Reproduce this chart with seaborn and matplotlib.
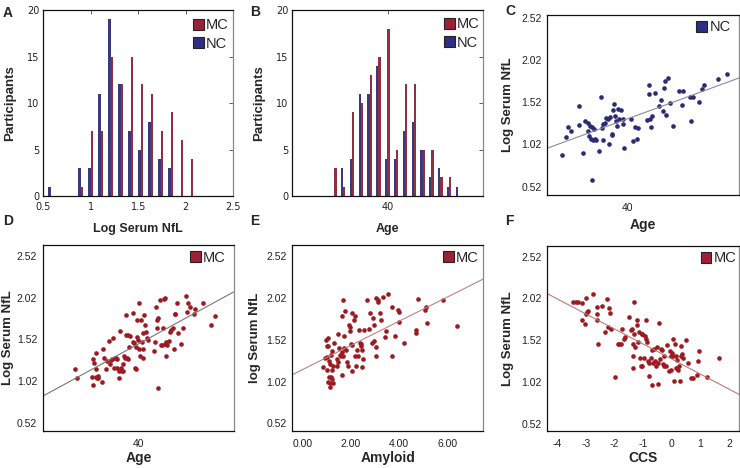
import numpy as np
import pandas as pd
import matplotlib
matplotlib.use("Agg")
import matplotlib.pyplot as plt
from matplotlib.patches import Patch
import seaborn as sns

# ---- histogram data (A, B) ----
nfl_bins = [0.58, 0.895, 1.0, 1.105, 1.21, 1.315, 1.42, 1.525, 1.63, 1.735, 1.84, 1.945, 2.05]
nfl_nc = [1, 3, 3, 11, 19, 12, 7, 5, 8, 4, 3, 0, 0]
nfl_mc = [0, 1, 7, 7, 15, 12, 15, 12, 11, 7, 9, 6, 4]

age_bins = [23.2, 25.97, 28.75, 31.52, 34.3, 37.07, 39.85, 42.62, 45.4, 48.17,
            50.95, 53.72, 56.5, 59.27, 62.05]
age_nc = [0, 3, 4, 11, 11, 14, 4, 4, 7, 8, 5, 2, 3, 1, 1]
age_mc = [3, 1, 9, 10, 13, 15, 18, 5, 12, 12, 5, 5, 2, 2, 0]

# ---- C: NC age vs log NfL ----
nc_age = [19.5, 20.8, 21.4, 22.4, 24.8, 25.0, 26.3, 26.8, 27.6, 27.8, 28.0, 28.3, 28.7,
          28.9, 29.0, 29.4, 29.7, 30.0, 30.2, 31.2, 31.8, 32.2, 32.3, 32.5, 32.9, 33.3,
          34.1, 34.4, 34.6, 35.1, 35.2, 35.6, 35.8, 36.0, 36.5, 36.7, 37.2, 37.5, 37.9,
          38.5, 38.7, 39.1, 41.0, 41.7, 42.5, 42.9, 43.3, 46.3, 46.8, 46.9, 47.1, 47.5,
          47.7, 48.8, 49.9, 50.5, 51.3, 51.6, 51.9, 52.0, 52.6, 53.3, 54.4, 56.3, 57.0,
          57.3, 59.6, 59.8, 60.6, 62.5, 63.2, 64.0, 68.4, 71.3]
nc_nfl = [0.89, 1.11, 1.22, 1.18, 1.25, 1.47, 0.92, 1.30, 1.27, 1.18, 1.12, 1.24, 1.08,
          1.23, 0.60, 1.07, 1.20, 1.08, 1.07, 0.94, 1.58, 1.21, 1.07, 1.26, 1.27, 1.33,
          1.32, 1.02, 1.34, 1.14, 1.13, 1.43, 1.50, 1.35, 1.29, 1.24, 1.44, 1.32, 1.43,
          1.32, 1.26, 0.98, 1.32, 1.06, 1.22, 1.08, 1.21, 1.31, 1.61, 1.72, 1.32, 1.23,
          1.35, 1.63, 1.47, 1.54, 1.41, 1.69, 1.77, 1.37, 1.81, 1.51, 1.24, 1.65, 1.49,
          1.65, 1.58, 1.30, 1.58, 1.52, 1.68, 1.72, 1.79, 1.85]

# ---- D: MC age vs log NfL ----
mc_age = [20.0, 20.8, 25.3, 25.7, 25.9, 26.1, 26.6, 26.7, 26.9, 27.2, 27.4, 26.7, 28.5,
          28.8, 29.1, 29.8, 30.2, 30.9, 31.1, 31.4, 31.6, 32.1, 32.4, 32.6, 33.0, 33.2,
          33.4, 33.9, 34.0, 34.3, 34.5, 34.7, 35.0, 35.3, 35.6, 35.8, 36.0, 36.1, 36.3,
          36.6, 36.8, 37.0, 37.3, 38.2, 38.4, 38.7, 38.9, 39.1, 39.2, 39.4, 39.6, 39.8,
          40.1, 40.3, 40.5, 40.7, 41.0, 41.3, 41.3, 41.5, 41.8, 42.0, 42.4, 42.6, 42.9,
          44.9, 45.2, 45.5, 45.7, 45.9, 46.1, 46.2, 46.7, 47.0, 47.5, 47.8, 48.0, 48.2,
          48.3, 48.5, 48.6, 48.8, 49.6, 49.9, 50.2, 50.7, 51.1, 51.3, 51.5, 52.2, 52.5,
          53.3, 53.8, 54.9, 55.1, 55.6, 56.1, 57.5, 57.7, 60.3, 62.7, 64.1]
mc_nfl_age = [1.16, 1.05, 1.07, 0.97, 1.28, 1.23, 1.16, 1.36, 1.06, 1.08, 1.05, 1.07, 1.01,
              1.40, 1.30, 1.16, 1.26, 1.50, 1.22, 1.27, 1.28, 1.53, 1.17, 1.29, 1.30, 1.28,
              1.17, 1.14, 1.06, 1.62, 1.18, 1.14, 1.22, 1.14, 1.32, 1.30, 1.81, 1.57, 1.30,
              1.28, 1.57, 1.43, 1.56, 1.84, 1.49, 1.47, 1.18, 1.16, 1.43, 1.55, 1.75, 1.51,
              1.96, 1.40, 1.32, 1.75, 1.49, 1.40, 1.30, 1.59, 1.81, 1.69, 1.61, 1.53, 1.51,
              1.38, 1.49, 1.91, 1.65, 1.75, 1.77, 0.93, 1.99, 1.45, 1.45, 1.65, 2.00, 2.01,
              1.46, 1.49, 1.32, 1.45, 1.50, 1.61, 1.63, 1.66, 1.40, 1.82, 1.82, 1.96, 1.59,
              1.46, 1.65, 2.04, 1.85, 1.95, 1.91, 1.82, 1.88, 1.96, 1.69, 1.80]

# ---- E: MC amyloid vs log NfL ----
amyloid = [0.84, 0.94, 0.98, 1.01, 1.02, 1.03, 1.05, 1.05, 1.07, 1.10, 1.12, 1.14, 1.14,
           1.16, 1.17, 1.18, 1.21, 1.21, 1.24, 1.25, 1.28, 1.29, 1.42, 1.45, 1.46, 1.49,
           1.51, 1.56, 1.60, 1.62, 1.62, 1.65, 1.67, 1.69, 1.71, 1.73, 1.76, 1.80, 1.86,
           1.90, 1.94, 1.97, 1.97, 2.00, 2.04, 2.04, 2.06, 2.12, 2.17, 2.17, 2.20, 2.26,
           2.28, 2.35, 2.38, 2.41, 2.44, 2.45, 2.48, 2.52, 2.55, 2.66, 2.77, 2.81, 2.86,
           2.95, 2.93, 2.96, 3.04, 3.04, 3.06, 3.11, 3.14, 3.21, 3.26, 3.34, 3.41, 3.45,
           3.55, 3.69, 3.72, 3.83, 3.96, 3.99, 4.00, 4.20, 4.68, 4.69, 4.79, 5.06, 5.11,
           5.13, 5.82, 6.39]
mc_nfl_amy = [1.19, 1.30, 1.52, 1.44, 1.31, 1.16, 1.44, 1.02, 1.54, 1.08, 1.26, 1.00, 0.96,
              1.23, 1.34, 1.08, 1.16, 1.38, 1.05, 1.21, 1.00, 1.48, 1.29, 1.20, 1.25, 1.59,
              1.42, 1.34, 1.32, 1.10, 1.37, 1.80, 1.99, 1.32, 1.56, 1.42, 1.86, 1.40, 1.25,
              1.20, 1.70, 1.67, 1.62, 1.47, 1.15, 1.46, 1.84, 1.76, 1.33, 1.80, 1.20, 1.40,
              1.32, 1.64, 1.48, 1.47, 1.44, 1.19, 1.40, 1.29, 1.64, 1.99, 1.65, 1.84, 1.48,
              1.70, 1.78, 1.50, 1.43, 1.33, 2.02, 1.99, 1.97, 1.84, 1.76, 2.03, 1.55, 1.62,
              2.07, 1.33, 1.91, 1.56, 1.88, 1.85, 1.73, 1.48, 1.64, 1.60, 2.01, 1.88, 1.91,
              1.72, 1.99, 1.68]

# ---- F: MC CCS vs log NfL ----
ccs = [-3.46, -3.35, -3.27, -3.12, -3.13, -3.03, -3.00, -3.00, -2.98, -2.94, -2.74, -2.63,
       -2.60, -2.60, -2.57, -2.45, -2.33, -2.25, -2.22, -2.19, -2.16, -2.14, -1.98, -1.89,
       -1.85, -1.78, -1.73, -1.67, -1.64, -1.48, -1.44, -1.40, -1.37, -1.34, -1.34, -1.32,
       -1.32, -1.29, -1.23, -1.20, -1.19, -1.15, -1.11, -1.09, -1.05, -1.05, -1.03, -0.97,
       -0.94, -0.91, -0.90, -0.88, -0.84, -0.78, -0.78, -0.74, -0.70, -0.68, -0.65, -0.61,
       -0.58, -0.55, -0.53, -0.49, -0.47, -0.45, -0.41, -0.39, -0.35, -0.32, -0.27, -0.26,
       -0.20, -0.16, -0.09, -0.06, -0.04, -0.03, 0.00, 0.03, 0.06, 0.08, 0.11, 0.14, 0.15,
       0.17, 0.19, 0.23, 0.25, 0.29, 0.31, 0.32, 0.35, 0.38, 0.50, 0.58, 0.67, 0.73, 0.87,
       0.93, 0.94, 1.24, 1.64]
mc_nfl_ccs = [1.98, 1.98, 1.98, 1.96, 1.76, 1.72, 2.03, 1.83, 1.86, 1.87, 2.07, 1.83,
              1.92, 1.76, 1.48, 1.93, 1.62, 2.01, 1.68, 1.90, 1.84, 1.65, 1.08, 1.48,
              1.48, 1.48, 1.66, 1.54, 1.56, 1.80, 1.64, 1.66, 1.47, 1.33, 1.19, 1.98,
              1.60, 1.44, 1.76, 1.70, 1.50, 1.62, 1.31, 1.21, 1.21, 1.60, 1.60, 1.31,
              1.57, 1.53, 1.76, 1.50, 1.27, 1.25, 1.09, 1.31, 1.40, 0.99, 1.25, 1.42,
              1.27, 1.21, 1.44, 1.25, 1.00, 1.73, 1.29, 1.42, 1.40, 1.23, 1.21, 1.33,
              1.21, 1.46, 1.15, 1.39, 1.33, 1.17, 1.37, 1.33, 1.54, 1.03, 1.48, 1.33,
              1.19, 1.28, 1.19, 1.16, 1.21, 1.03, 1.33, 1.45, 1.36, 1.31, 1.52, 1.25,
              1.07, 1.07, 1.11, 1.27, 1.39, 1.08, 1.31]

MC_BAR = "#9e2036"
NC_BAR = "#2e2e86"
MC_DOT = "#9c1a20"
NC_DOT = "#2a2a76"

sns.set_style("white")
plt.rcParams["font.family"] = ["Liberation Sans", "DejaVu Sans"]

fig = plt.figure(figsize=(7.4, 4.68), dpi=100)
W, H = 740.0, 468.0


def make_ax(left, right, top, bottom):
    return fig.add_axes([left / W, 1 - bottom / H, (right - left) / W, (bottom - top) / H])


ax_a = make_ax(43.3, 233.3, 10, 196)
ax_b = make_ax(292.3, 483.3, 10, 196)
ax_c = make_ax(547.3, 739.3, 15, 195)
ax_d = make_ax(42.7, 234.3, 245, 431)
ax_e = make_ax(292.3, 483.3, 245, 431)
ax_f = make_ax(547.3, 739.3, 245.7, 431)


def style_frame(ax):
    for s in ["left", "bottom", "top"]:
        ax.spines[s].set_color("#111111")
        ax.spines[s].set_linewidth(0.9)
    ax.spines["right"].set_color("#888888")
    ax.spines["right"].set_linewidth(0.9)


def add_legend(ax, names, colors, anchor):
    handles = [Patch(facecolor=c, edgecolor="#222222", linewidth=0.8) for c in colors]
    ax.legend(handles, names, loc="upper right", bbox_to_anchor=anchor, frameon=False,
              fontsize=10.5, handlelength=0.75, handleheight=0.75, handletextpad=0.15,
              labelspacing=0.3, borderpad=0, borderaxespad=0)


def hist_panel(ax, bins, nc, mc, xlim, xticks, xticklabels, xlabel):
    df = pd.DataFrame({
        "bin": list(bins) + list(bins),
        "count": list(nc) + list(mc),
        "group": ["NC"] * len(bins) + ["MC"] * len(bins),
    })
    sns.barplot(data=df, x="bin", y="count", hue="group", hue_order=["NC", "MC"],
                palette={"NC": NC_BAR, "MC": MC_BAR}, native_scale=True, dodge=True,
                width=0.52, errorbar=None, legend=False, linewidth=0, ax=ax)
    ax.set_xlim(*xlim)
    ax.set_ylim(0, 20)
    ax.set_xticks(xticks, xticklabels, fontfamily="DejaVu Sans", fontsize=7, color="#222222")
    ax.set_yticks([0, 5, 10, 15, 20], ["0", "5", "10", "15", "20"],
                  fontfamily="DejaVu Sans", fontsize=7, color="#222222")
    ax.tick_params(direction="in", length=3, width=0.6, top=True, right=True,
                   colors="#444444", labelcolor="#222222")
    ax.tick_params(axis="y", pad=3)
    ax.tick_params(axis="x", pad=4)
    ax.set_xlabel(xlabel, fontsize=9, fontweight="bold", labelpad=8)
    ax.set_ylabel("Participants", fontsize=9.5, fontweight="bold", labelpad=8)
    style_frame(ax)


hist_panel(ax_a, nfl_bins, nfl_nc, nfl_mc, (0.5, 2.5), [0.5, 1, 1.5, 2, 2.5],
           ["0.5", "1", "1.5", "2", "2.5"], "Log Serum NfL")
add_legend(ax_a, ["MC", "NC"], [MC_BAR, NC_BAR], (0.975, 0.955))

hist_panel(ax_b, age_bins, age_nc, age_mc, (10, 70), [40], ["40"], "Age")
add_legend(ax_b, ["MC", "NC"], [MC_BAR, NC_BAR], (0.98, 0.96))


def scatter_panel(ax, x, y, xlim, ylim, xticks, xticklabels, xlabel, ylabel, dot, line,
                  ylabelpad, xlabelpad):
    ax.set_xlim(*xlim)
    ax.set_ylim(*ylim)
    sns.regplot(x=np.array(x), y=np.array(y), ax=ax, ci=None, truncate=False,
                scatter_kws=dict(s=11, color=dot, linewidths=0, alpha=1),
                line_kws=dict(color=line, linewidth=0.8))
    ax.set_xlim(*xlim)
    ax.set_ylim(*ylim)
    ax.set_xticks(xticks, xticklabels, fontsize=7.5, color="#222222")
    ax.set_yticks([0.52, 1.02, 1.52, 2.02, 2.52], ["0.52", "1.02", "1.52", "2.02", "2.52"],
                  fontsize=7.5, color="#222222")
    ax.tick_params(direction="out", length=2.5, width=0.7, pad=1.5, colors="#333333",
                   labelcolor="#222222")
    ax.tick_params(axis="x", pad=3)
    ax.set_xlabel(xlabel, fontsize=10, fontweight="bold", labelpad=xlabelpad)
    ax.set_ylabel(ylabel, fontsize=9.5, fontweight="bold", labelpad=ylabelpad)
    style_frame(ax)


scatter_panel(ax_c, nc_age, nc_nfl, (15, 75), (0.42, 2.55), [40], ["40"], "Age",
              "Log Serum NfL", NC_DOT, "#8a8a9a", 5, 4)
add_legend(ax_c, ["NC"], [NC_BAR], (0.955, 0.97))

scatter_panel(ax_d, mc_age, mc_nfl_age, (10, 70), (0.42, 2.65), [40], ["40"], "Age",
              "Log Serum NfL", MC_DOT, "#777777", 2, 2)
add_legend(ax_d, ["MC"], [MC_BAR], (0.955, 0.97))

scatter_panel(ax_e, amyloid, mc_nfl_amy, (-0.41, 7.47), (0.43, 2.65), [0, 2, 4, 6],
              ["0.00", "2.00", "4.00", "6.00"], "Amyloid", "log Serum NfL", MC_DOT,
              "#c08080", 4, 2)
add_legend(ax_e, ["MC"], [MC_BAR], (0.975, 0.97))

scatter_panel(ax_f, ccs, mc_nfl_ccs, (-4.35, 2.36), (0.435, 2.65), [-4, -3, -2, -1, 0, 1, 2],
              ["-4", "-3", "-2", "-1", "0", "1", "2"], "CCS", "Log Serum NfL", MC_DOT,
              "#c07878", 5, 2)
add_legend(ax_f, ["MC"], [MC_BAR], (0.985, 0.97))

# panel letters
for letter, (px, py) in zip("ABCDEF", [(3, 13), (250, 12), (505, 11),
                                       (3, 221), (250, 221), (505, 221)]):
    fig.text(px / W, 1 - py / H, letter, fontsize=10, fontweight="bold", va="center",
             ha="left")

fig.savefig("out.png", dpi=100)
